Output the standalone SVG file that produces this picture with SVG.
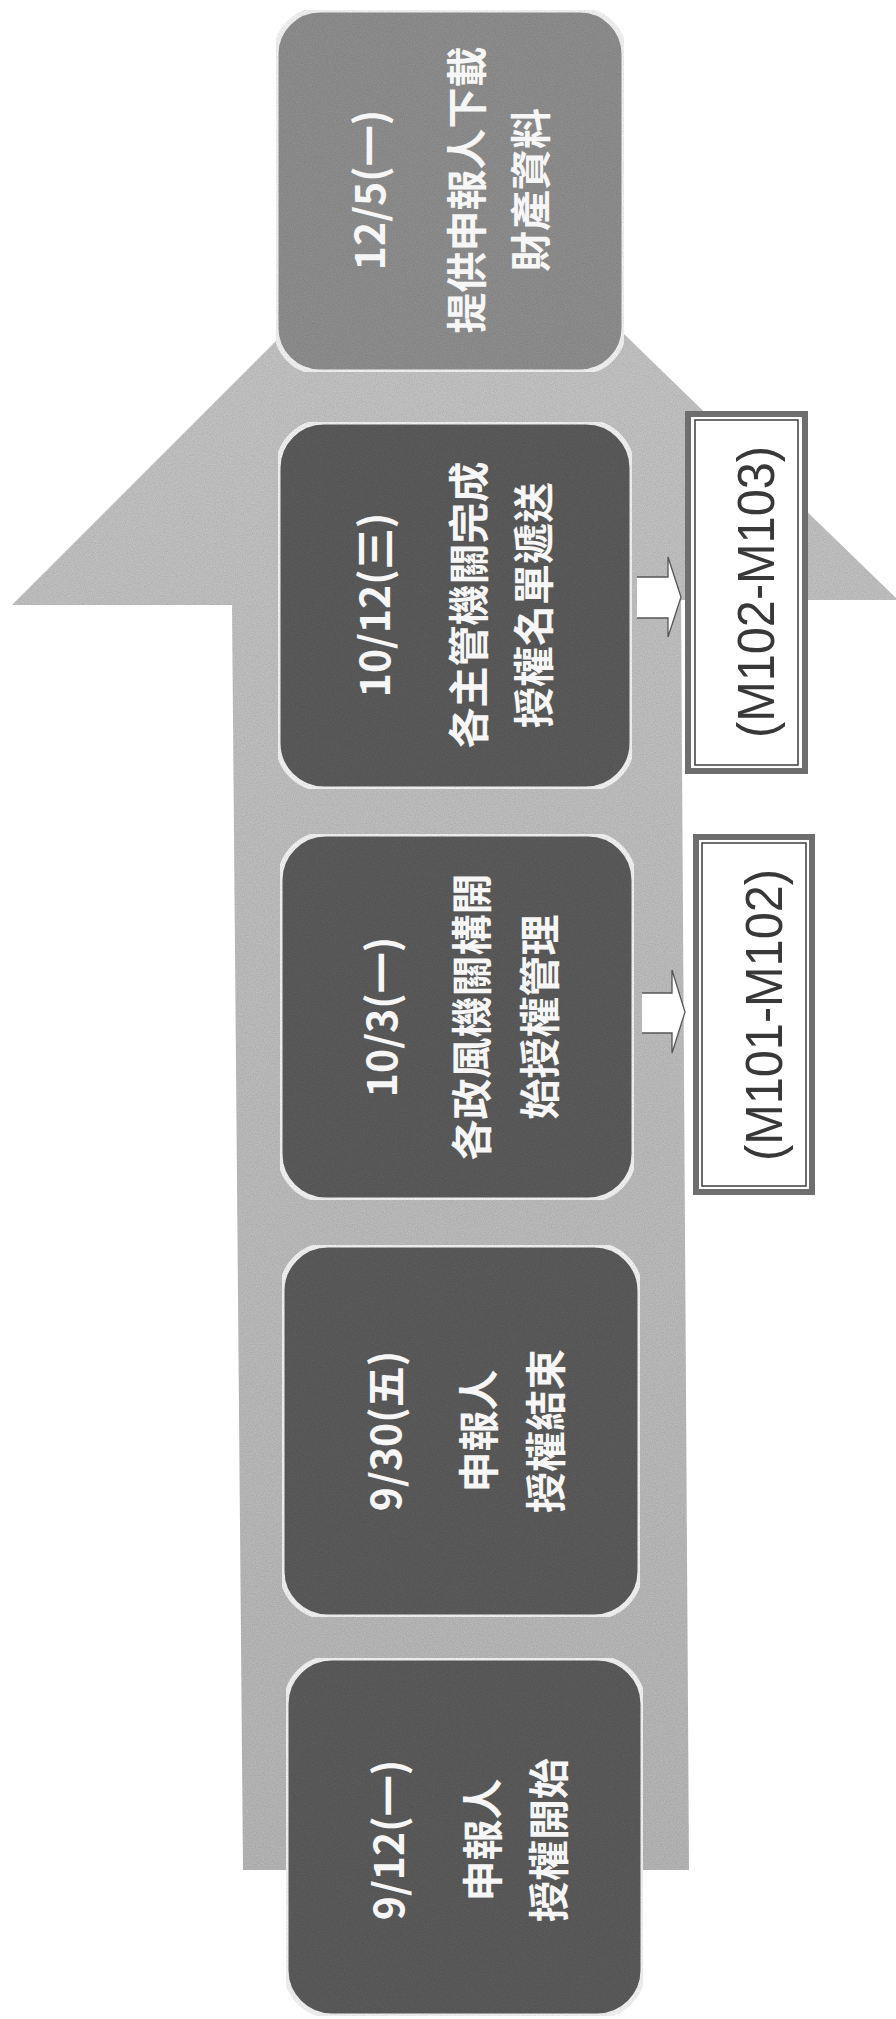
<svg xmlns="http://www.w3.org/2000/svg" width="896" height="2019" viewBox="0 0 896 2019">
  <defs>
    <linearGradient id="arrowGrad" x1="0" y1="0" x2="0" y2="1">
      <stop offset="0" stop-color="#c4c4c4"/>
      <stop offset="1" stop-color="#b6b6b6"/>
    </linearGradient>
    <filter id="grain" x="0" y="0" width="100%" height="100%">
      <feTurbulence type="fractalNoise" baseFrequency="0.9" numOctaves="2" seed="3" result="noise"/>
      <feColorMatrix in="noise" type="matrix" values="0 0 0 0 0  0 0 0 0 0  0 0 0 0 0  0 0 0 0.35 -0.1" result="specks"/>
      <feComposite in="specks" in2="SourceAlpha" operator="in" result="sp"/>
      <feMerge>
        <feMergeNode in="SourceGraphic"/>
        <feMergeNode in="sp"/>
      </feMerge>
    </filter>
  </defs>
  <style>
    .box { fill: #5b5b5b; stroke: #f3f3f3; stroke-width: 5; }
    .boxLight { fill: #8e8e8e; stroke: #f3f3f3; stroke-width: 5; }
    .t { font-family: "Noto Sans CJK TC", "Noto Sans CJK SC", sans-serif; font-weight: 700; font-size: 41px; fill: #f6f6f6; text-anchor: middle; dominant-baseline: central; }
    .lblOuter { fill: #ffffff; stroke: #6e6e6e; stroke-width: 6; }
    .lblInner { fill: none; stroke: #3c3c3c; stroke-width: 1.5; }
    .lt { font-family: "Liberation Sans", Arial, sans-serif; font-size: 52px; fill: #383838; text-anchor: middle; dominant-baseline: central; }
    .conn { fill: #ffffff; stroke: #555555; stroke-width: 1.3; stroke-linejoin: miter; }
  </style>
  <rect width="896" height="2019" fill="#ffffff"/>

  <!-- big upward arrow -->
  <polygon id="bigArrow" points="12,605 232,605 243,1870 689,1870 681,600 898,600 451,166" fill="url(#arrowGrad)" filter="url(#grain)"/>

  <g id="node-1205">
    <rect class="boxLight" x="276" y="10" width="348" height="362" rx="44" ry="44" filter="url(#grain)"/>
    <text class="t" transform="translate(367,190) rotate(-90)">12/5(一)</text>
    <text class="t" transform="translate(464,190) rotate(-90)">提供申報人下載</text>
    <text class="t" transform="translate(528,190) rotate(-90)">財產資料</text>
  </g>

  <g id="node-1012">
    <rect class="box" x="278" y="422" width="354" height="367" rx="46" ry="46" filter="url(#grain)"/>
    <text class="t" transform="translate(372,605) rotate(-90)">10/12(三)</text>
    <text class="t" transform="translate(466,605) rotate(-90)">各主管機關完成</text>
    <text class="t" transform="translate(531,605) rotate(-90)">授權名單遞送</text>
  </g>

  <g id="node-1003">
    <rect class="box" x="280" y="834" width="354" height="366" rx="46" ry="46" filter="url(#grain)"/>
    <text class="t" transform="translate(379,1017) rotate(-90)">10/3(一)</text>
    <text class="t" transform="translate(469,1017) rotate(-90)">各政風機關構開</text>
    <text class="t" transform="translate(537,1017) rotate(-90)">始授權管理</text>
  </g>

  <g id="node-0930">
    <rect class="box" x="282" y="1245" width="358" height="372" rx="46" ry="46" filter="url(#grain)"/>
    <text class="t" transform="translate(383,1431) rotate(-90)">9/30(五)</text>
    <text class="t" transform="translate(476,1431) rotate(-90)">申報人</text>
    <text class="t" transform="translate(543,1431) rotate(-90)">授權結束</text>
  </g>

  <g id="node-0912">
    <rect class="box" x="286" y="1658" width="357" height="358" rx="46" ry="46" filter="url(#grain)"/>
    <text class="t" transform="translate(386,1840) rotate(-90)">9/12(一)</text>
    <text class="t" transform="translate(480,1840) rotate(-90)">申報人</text>
    <text class="t" transform="translate(546,1840) rotate(-90)">授權開始</text>
  </g>

  <g id="label-M102-M103">
    <rect class="lblOuter" x="688" y="414" width="117" height="357"/>
    <rect class="lblInner" x="695" y="420" width="103" height="345"/>
    <text class="lt" transform="translate(756,592) rotate(-90)" textLength="292" lengthAdjust="spacingAndGlyphs">(M102-M103)</text>
  </g>

  <g id="label-M101-M102">
    <rect class="lblOuter" x="696" y="837" width="116" height="355"/>
    <rect class="lblInner" x="702" y="843" width="104" height="343"/>
    <text class="lt" transform="translate(764,1015) rotate(-90)" textLength="292" lengthAdjust="spacingAndGlyphs">(M101-M102)</text>
  </g>

  <g id="connectors">
    <path class="conn" d="M637,577 H668 V557 L681,597 L668,637 V618 H637"/>
    <path class="conn" d="M642,993 H672 V970 L685,1012 L672,1053 V1033 H642"/>
  </g>
</svg>
